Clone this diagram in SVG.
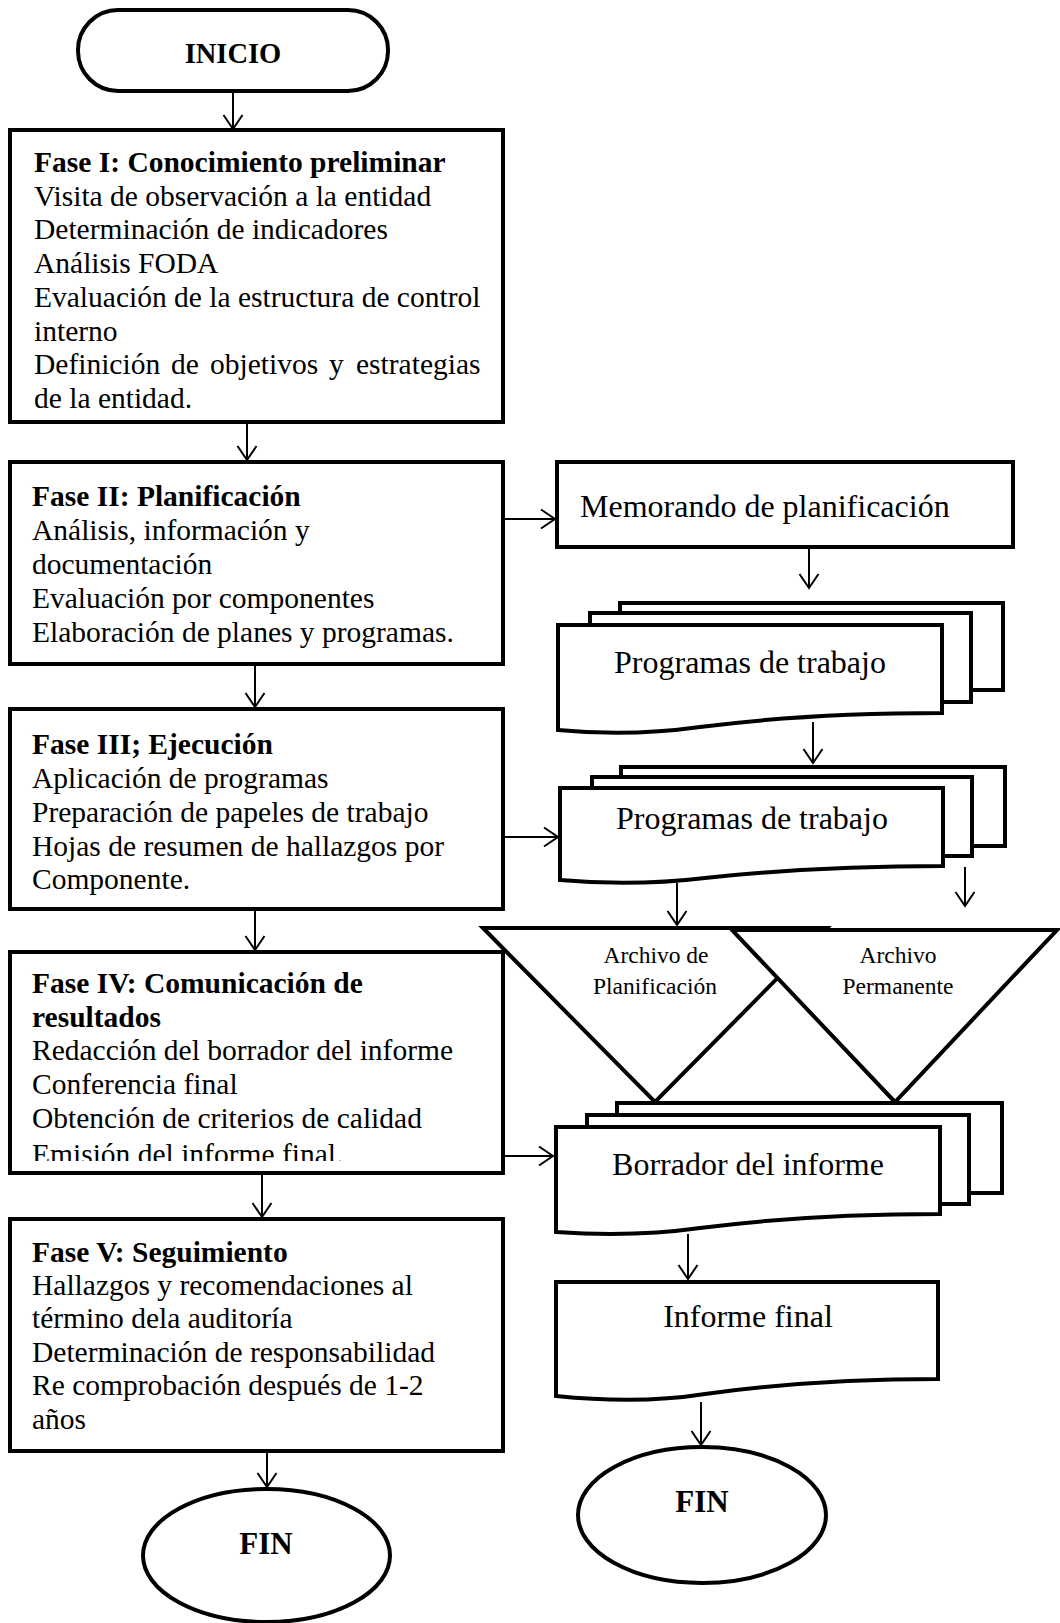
<svg xmlns="http://www.w3.org/2000/svg" width="1060" height="1623" viewBox="0 0 1060 1623">
<style>
.sh{fill:#fff;stroke:#000;stroke-width:4;stroke-linejoin:miter}
.t{font-family:"Liberation Serif","Times New Roman",serif;font-size:29.5px;fill:#000}
.b{font-weight:bold}
.d{font-family:"Liberation Serif","Times New Roman",serif;font-size:32px;fill:#000}
.a{font-family:"Liberation Serif","Times New Roman",serif;font-size:23.5px;fill:#000;text-anchor:middle}
.m{text-anchor:middle}
.c{fill:none;stroke:#000;stroke-width:2}
</style>
<defs>
<marker id="ah" markerUnits="userSpaceOnUse" viewBox="0 0 20 22" markerWidth="20" markerHeight="22" refX="15" refY="11" orient="auto">
<path d="M1,1.5 L15,11 L1,20.5" fill="none" stroke="#000" stroke-width="2"/>
</marker>
<clipPath id="clip4"><rect x="10" y="952" width="493" height="209"/></clipPath>
</defs>
<rect width="1060" height="1623" fill="#fff"/>

<g id="connectors">
<line class="c" x1="233" y1="91" x2="233" y2="129" marker-end="url(#ah)"/>
<line class="c" x1="247" y1="422" x2="247" y2="460" marker-end="url(#ah)"/>
<line class="c" x1="255" y1="664" x2="255" y2="707" marker-end="url(#ah)"/>
<line class="c" x1="255" y1="909" x2="255" y2="950" marker-end="url(#ah)"/>
<line class="c" x1="262" y1="1173" x2="262" y2="1217" marker-end="url(#ah)"/>
<line class="c" x1="267" y1="1447" x2="267" y2="1487" marker-end="url(#ah)"/>
<line class="c" x1="503" y1="519" x2="555" y2="519" marker-end="url(#ah)"/>
<line class="c" x1="809" y1="547" x2="809" y2="588" marker-end="url(#ah)"/>
<line class="c" x1="813" y1="722" x2="813" y2="763" marker-end="url(#ah)"/>
<line class="c" x1="503" y1="837" x2="558" y2="837" marker-end="url(#ah)"/>
<line class="c" x1="677" y1="883" x2="677" y2="925" marker-end="url(#ah)"/>
<line class="c" x1="965" y1="867" x2="965" y2="906" marker-end="url(#ah)"/>
<line class="c" x1="503" y1="1156" x2="553" y2="1156" marker-end="url(#ah)"/>
<line class="c" x1="688" y1="1234" x2="688" y2="1279" marker-end="url(#ah)"/>
<line class="c" x1="701" y1="1402" x2="701" y2="1445" marker-end="url(#ah)"/>
</g>

<g id="inicio">
<rect class="sh" x="78" y="10" width="310" height="81" rx="40" ry="40"/>
<text class="t b m" x="233" y="63" style="font-size:28.5px">INICIO</text>
</g>

<g id="fase1">
<rect class="sh" x="10" y="130" width="493" height="292"/>
<text class="t b" x="34" y="172">Fase I: Conocimiento preliminar</text>
<text class="t" x="34" y="205.7">Visita de observación a la entidad</text>
<text class="t" x="34" y="239.4">Determinación de indicadores</text>
<text class="t" x="34" y="273.1">Análisis FODA</text>
<text class="t" x="34" y="306.9">Evaluación de la estructura de control</text>
<text class="t" x="34" y="340.6">interno</text>
<text class="t" y="374.3"><tspan x="34">Definición</tspan><tspan x="171">de</tspan><tspan x="210">objetivos</tspan><tspan x="329">y</tspan><tspan x="356">estrategias</tspan></text>
<text class="t" x="34" y="408">de la entidad.</text>
</g>

<g id="fase2">
<rect class="sh" x="10" y="462" width="493" height="202"/>
<text class="t b" x="32" y="506">Fase II: Planificación</text>
<text class="t" x="32" y="540">Análisis, información y</text>
<text class="t" x="32" y="574">documentación</text>
<text class="t" x="32" y="608">Evaluación por componentes</text>
<text class="t" x="32" y="642">Elaboración de planes y programas.</text>
</g>

<g id="fase3">
<rect class="sh" x="10" y="709" width="493" height="200"/>
<text class="t b" x="32" y="754">Fase III; Ejecución</text>
<text class="t" x="32" y="788">Aplicación de programas</text>
<text class="t" x="32" y="822">Preparación de papeles de trabajo</text>
<text class="t" x="32" y="856">Hojas de resumen de hallazgos por</text>
<text class="t" x="32" y="889">Componente.</text>
</g>

<g id="fase4">
<rect class="sh" x="10" y="952" width="493" height="221"/>
<g clip-path="url(#clip4)">
<text class="t b" x="32" y="993">Fase IV: Comunicación de</text>
<text class="t b" x="32" y="1026.5">resultados</text>
<text class="t" x="32" y="1060">Redacción del borrador del informe</text>
<text class="t" x="32" y="1094">Conferencia final</text>
<text class="t" x="32" y="1128">Obtención de criterios de calidad</text>
<text class="t" x="32" y="1164">Emisión del informe final.</text>
</g>
</g>

<g id="fase5">
<rect class="sh" x="10" y="1219" width="493" height="232"/>
<text class="t b" x="32" y="1262">Fase V: Seguimiento</text>
<text class="t" x="32" y="1295">Hallazgos y recomendaciones al</text>
<text class="t" x="32" y="1328">término dela auditoría</text>
<text class="t" x="32" y="1361.5">Determinación de responsabilidad</text>
<text class="t" x="32" y="1395">Re comprobación después de 1-2</text>
<text class="t" x="32" y="1428.5">años</text>
</g>

<g id="fin-left">
<ellipse class="sh" cx="266.5" cy="1555.5" rx="123.5" ry="66.5"/>
<text class="t b m" x="266" y="1554" style="font-size:31px">FIN</text>
</g>

<g id="memorando">
<rect class="sh" x="557" y="462" width="456" height="85"/>
<text class="d" x="580" y="517">Memorando de planificación</text>
</g>

<g id="programas1">
<rect class="sh" x="620" y="603" width="383" height="87"/>
<rect class="sh" x="590" y="613" width="381" height="89"/>
<path class="sh" d="M558,625 H942 V713 C860,713 770,718 700,727 C650,734 600,734 558,730 Z"/>
<text class="d m" x="750" y="673">Programas de trabajo</text>
</g>

<g id="programas2">
<rect class="sh" x="621" y="767" width="384" height="79"/>
<rect class="sh" x="592" y="777" width="380" height="79"/>
<path class="sh" d="M560,788 H943 V866 C860,866 770,871 705,878 C655,884 605,884 560,880 Z"/>
<text class="d m" x="752" y="829">Programas de trabajo</text>
</g>

<g id="archivo-planificacion">
<path class="sh" d="M483,928 L827,928 L655,1102 Z"/>
<text class="a" x="656" y="963">Archivo de</text>
<text class="a" x="655" y="994">Planificación</text>
</g>

<g id="archivo-permanente">
<path class="sh" d="M732,930 L1057,930 L895,1102 Z"/>
<text class="a" x="898" y="963">Archivo</text>
<text class="a" x="898" y="994">Permanente</text>
</g>

<g id="borrador">
<rect class="sh" x="617" y="1103" width="385" height="90"/>
<rect class="sh" x="587" y="1115" width="382" height="89"/>
<path class="sh" d="M556,1127 H940 V1214 C858,1214 770,1219 700,1228 C650,1235 600,1235 556,1232 Z"/>
<text class="d m" x="748" y="1175">Borrador del informe</text>
</g>

<g id="informe-final">
<path class="sh" d="M556,1282 H938 V1379 C856,1379 770,1385 705,1394 C655,1402 605,1401 556,1396 Z"/>
<text class="d m" x="748" y="1327">Informe final</text>
</g>

<g id="fin-right">
<ellipse class="sh" cx="702" cy="1515" rx="124" ry="68"/>
<text class="t b m" x="702" y="1512" style="font-size:31px">FIN</text>
</g>
</svg>
